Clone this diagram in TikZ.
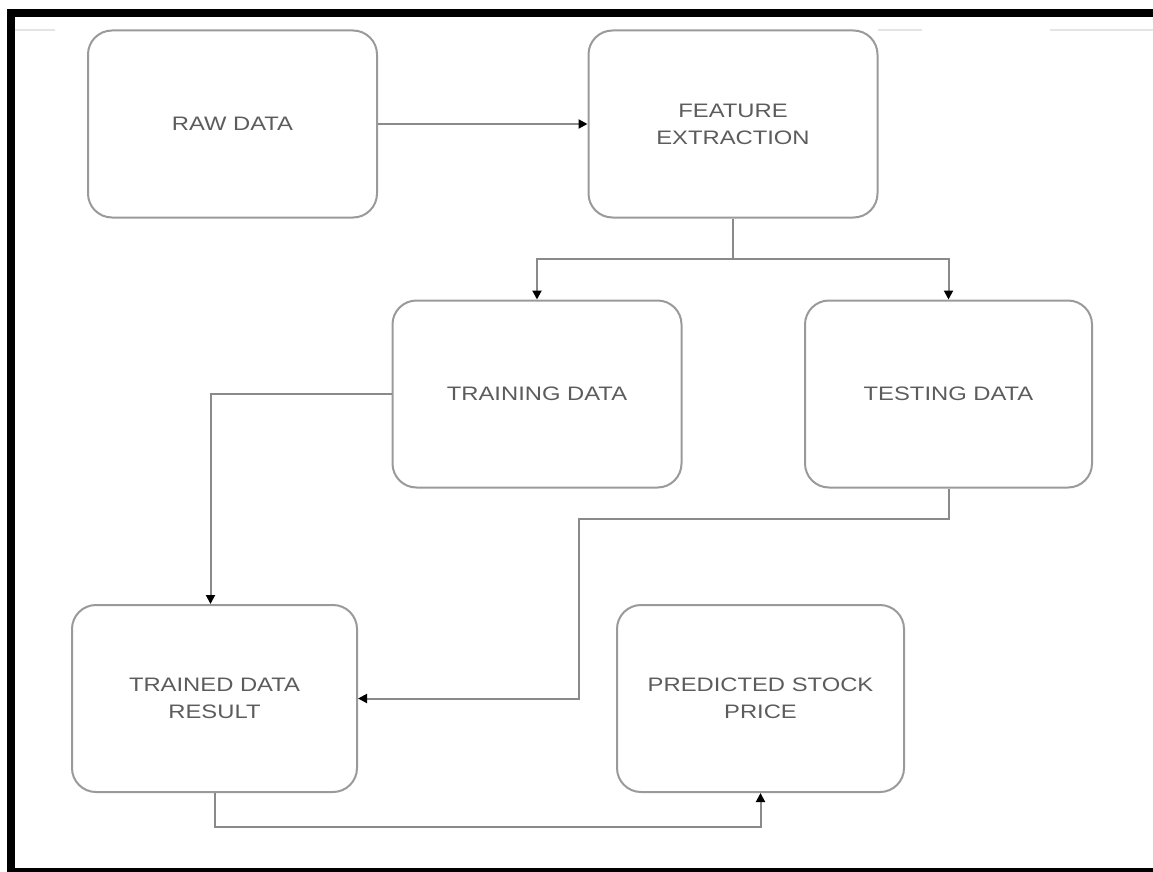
\documentclass[tikz,border=0pt]{standalone}
\usepackage{fontspec}
\setmainfont{Liberation Sans}
\usetikzlibrary{arrows.meta}
\definecolor{boxline}{HTML}{9A9A9A}
\definecolor{txt}{HTML}{5C5C5C}
\definecolor{conn}{HTML}{8A8A8A}
\definecolor{faint}{HTML}{E4E4E4}
\newcommand{\wtxt}[1]{\scalebox{1.22}[1]{#1}}
\tikzset{
  stage/.style={draw=boxline, line width=2pt, rounded corners=24pt,
    minimum width=289pt, minimum height=187pt, inner sep=0pt,
    align=center, text=txt, font=\fontsize{19.5}{27}\selectfont},
  wire/.style={draw=conn, line width=2pt},
  link/.style={wire, -{Triangle[length=9pt,width=9pt,color=black]}},
}
\begin{document}
\begin{tikzpicture}[x=1pt,y=-1pt]
\useasboundingbox (0,0) rectangle (1153,872);
% frame
\fill[black] (7,9) rectangle (1153,17);
\fill[black] (7,9) rectangle (15,872);
\fill[black] (7,868) rectangle (1153,872);
% faint remnants of a top line
\draw[faint, line width=1.5pt] (15,30) -- (55,30);
\draw[faint, line width=1.5pt] (878,30) -- (922,30);
\draw[faint, line width=1.5pt] (1050,30) -- (1153,30);
% boxes
\node[stage] (raw)  at (232.5,124) {\wtxt{RAW DATA}};
\node[stage] (feat) at (733,124) {\wtxt{FEATURE}\\\wtxt{EXTRACTION}};
\node[stage] (train) at (537,394) {\wtxt{TRAINING DATA}};
\node[stage, minimum width=287pt] (test) at (948.5,394) {\wtxt{TESTING DATA}};
\node[stage, minimum width=285pt] (trained) at (214.5,698.5) {\wtxt{TRAINED DATA}\\\wtxt{RESULT}};
\node[stage, minimum width=287pt] (pred) at (760.5,698.5) {\wtxt{PREDICTED STOCK}\\\wtxt{PRICE}};
% connectors
\coordinate (split) at (733,259);
\coordinate (bend) at (579,519);
\coordinate (low) at (214.5,827);
\draw[link] (raw.east) -- (feat.west);
\draw[wire] (feat.south) -- (split);
\draw[link] (split) -| (train.north);
\draw[link] (split) -| (test.north);
\draw[link] (train.west) -| ([xshift=-4pt]trained.north);
\draw[link] (test.south) |- (bend) |- (trained.east);
\draw[link] (trained.south) -- (low) -| (pred.south);
\end{tikzpicture}
\end{document}
